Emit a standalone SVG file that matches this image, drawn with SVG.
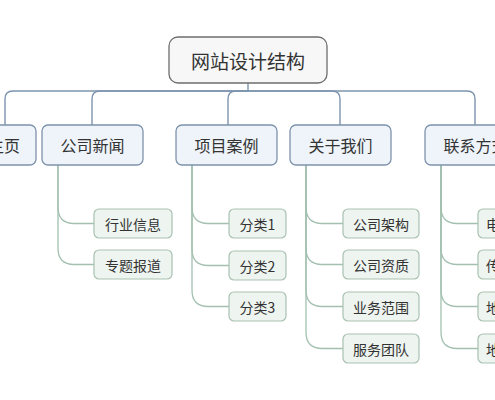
<svg xmlns="http://www.w3.org/2000/svg" width="495" height="400" viewBox="0 0 495 400">
<style>
text{font-family:"Noto Sans CJK SC","Noto Sans",sans-serif;fill:#333;text-anchor:middle;dominant-baseline:central}
.root rect{fill:#f7f7f7;stroke:#6e6e6e;stroke-width:1.3}
.root text{font-size:19px}
.l1 rect{fill:#eef4fa;stroke:#7d93ab;stroke-width:1.3}
.l1 text{font-size:16px}
.l2 rect{fill:#eef4ef;stroke:#a9c2b2;stroke-width:1.2}
.l2 text{font-size:14px}
.l2 text.s{text-anchor:start}
.c1{fill:none;stroke:#7d95ae;stroke-width:1.4}
.c2{fill:none;stroke:#a3c0b0;stroke-width:1.3}
</style>
<rect width="495" height="400" fill="#ffffff"/>
<g id="connectors">
<path class="c1" d="M248,83 V91 H13 Q5,91 5,99 V125"/>
<path class="c1" d="M248,91 H100 Q92,91 92,99 V125"/>
<path class="c1" d="M248,91 H236 Q228,91 228,99 V125"/>
<path class="c1" d="M248,91 H332 Q340,91 340,99 V125"/>
<path class="c1" d="M248,91 H467 Q475,91 475,99 V125"/>
<path class="c2" d="M58,165 V207 Q58,223.5 74,223.5 H94"/>
<path class="c2" d="M58,165 V248 Q58,264.5 74,264.5 H94"/>
<path class="c2" d="M192,165 V207 Q192,223.5 208,223.5 H229"/>
<path class="c2" d="M192,165 V249 Q192,265.5 208,265.5 H229"/>
<path class="c2" d="M192,165 V290 Q192,306.5 208,306.5 H229"/>
<path class="c2" d="M306,165 V207 Q306,223.5 322,223.5 H343"/>
<path class="c2" d="M306,165 V248 Q306,264.5 322,264.5 H343"/>
<path class="c2" d="M306,165 V290 Q306,306.5 322,306.5 H343"/>
<path class="c2" d="M306,165 V332 Q306,348.5 322,348.5 H343"/>
<path class="c2" d="M441,165 V207 Q441,223.5 457,223.5 H478"/>
<path class="c2" d="M441,165 V248 Q441,264.5 457,264.5 H478"/>
<path class="c2" d="M441,165 V290 Q441,306.5 457,306.5 H478"/>
<path class="c2" d="M441,165 V332 Q441,348.5 457,348.5 H478"/>
</g>
<g id="root" class="root"><rect x="169" y="37" width="158" height="46" rx="9"/><text x="248" y="60">网站设计结构</text></g>
<g id="n-home" class="l1"><rect x="-28" y="125" width="64" height="40" rx="6"/><text x="4" y="145">主页</text></g>
<g id="n-news" class="l1"><rect x="42" y="125" width="101" height="40" rx="6"/><text x="92.5" y="145">公司新闻</text></g>
<g id="n-cases" class="l1"><rect x="176" y="125" width="101" height="40" rx="6"/><text x="226.5" y="145">项目案例</text></g>
<g id="n-about" class="l1"><rect x="290" y="125" width="101" height="40" rx="6"/><text x="340.5" y="145">关于我们</text></g>
<g id="n-contact" class="l1"><rect x="425" y="125" width="101" height="40" rx="6"/><text x="475.5" y="145">联系方式</text></g>
<g id="n-news-1" class="l2"><rect x="94" y="209" width="78" height="29" rx="5"/><text x="133" y="223.5">行业信息</text></g>
<g id="n-news-2" class="l2"><rect x="94" y="250" width="78" height="29" rx="5"/><text x="133" y="264.5">专题报道</text></g>
<g id="n-cases-1" class="l2"><rect x="229" y="209" width="57" height="29" rx="5"/><text x="257.5" y="223.5">分类1</text></g>
<g id="n-cases-2" class="l2"><rect x="229" y="251" width="57" height="29" rx="5"/><text x="257.5" y="265.5">分类2</text></g>
<g id="n-cases-3" class="l2"><rect x="229" y="292" width="57" height="29" rx="5"/><text x="257.5" y="306.5">分类3</text></g>
<g id="n-about-1" class="l2"><rect x="343" y="209" width="76" height="29" rx="5"/><text x="381" y="223.5">公司架构</text></g>
<g id="n-about-2" class="l2"><rect x="343" y="250" width="76" height="29" rx="5"/><text x="381" y="264.5">公司资质</text></g>
<g id="n-about-3" class="l2"><rect x="343" y="292" width="76" height="29" rx="5"/><text x="381" y="306.5">业务范围</text></g>
<g id="n-about-4" class="l2"><rect x="343" y="334" width="76" height="29" rx="5"/><text x="381" y="348.5">服务团队</text></g>
<g id="n-contact-1" class="l2"><rect x="478" y="209" width="62" height="29" rx="5"/><text class="s" x="486" y="223.5">电话</text></g>
<g id="n-contact-2" class="l2"><rect x="478" y="250" width="62" height="29" rx="5"/><text class="s" x="486" y="264.5">传真</text></g>
<g id="n-contact-3" class="l2"><rect x="478" y="292" width="62" height="29" rx="5"/><text class="s" x="486" y="306.5">地址</text></g>
<g id="n-contact-4" class="l2"><rect x="478" y="334" width="62" height="29" rx="5"/><text class="s" x="486" y="348.5">地图</text></g>
</svg>
